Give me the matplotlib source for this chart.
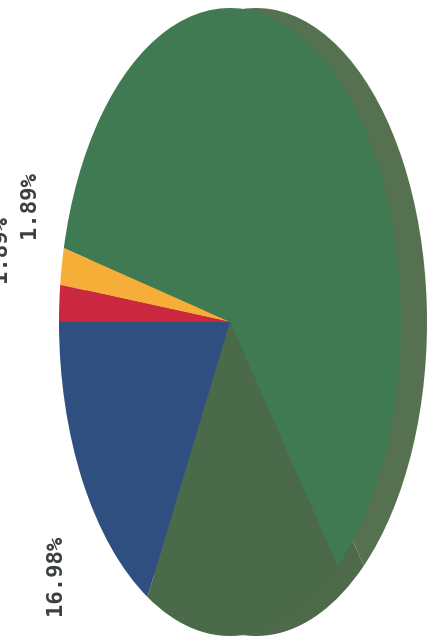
import matplotlib
matplotlib.use('Agg')
import matplotlib.pyplot as plt

# share of each slice, going round from the left edge
categories = ['blue', 'dark green', 'green', 'yellow', 'red']
values = [16.98, 18.87, 60.37, 1.89, 1.89]
colors = ['#2f4f80', '#4a6a4a', '#3f7a53', '#f6ae38', '#c9283f']
side_colors = ['#2f4f70', '#4e6a4b', '#55714f', '#c89030', '#a02838']
labels = ['16.98%', '1.89%', '1.89%']

W, H = 432, 638
fig = plt.figure(figsize=(W / 100, H / 100), dpi=100, facecolor='white')
ax = fig.add_axes([0, 0, 1, 1])

cx, cy, rx, ry = 230, 322, 171, 314
depth = 26

# side of the disc first, then the top face over it
ax.pie(values, colors=side_colors, startangle=180, center=(depth / rx, 0), radius=1)
ax.pie(values, colors=colors, startangle=180, center=(0, 0), radius=1)

ax.set_aspect('auto')
ax.set_xlim(-cx / rx, (W - cx) / rx)
ax.set_ylim(-(H - cy) / ry, cy / ry)
ax.axis('off')

# x, y in pixels from top left; last label runs off the edge as in the scan
label_x = [55, 29, 0]
label_y = [615, 238, 282]
for s, x, y in zip(labels, label_x, label_y):
    fig.text(x / W, 1 - y / H, s, rotation=90, ha='center', va='bottom',
             family='DejaVu Sans Mono', fontsize=16, fontweight='bold', color='#3a3f3c')

plt.savefig('out.png', dpi=100)
